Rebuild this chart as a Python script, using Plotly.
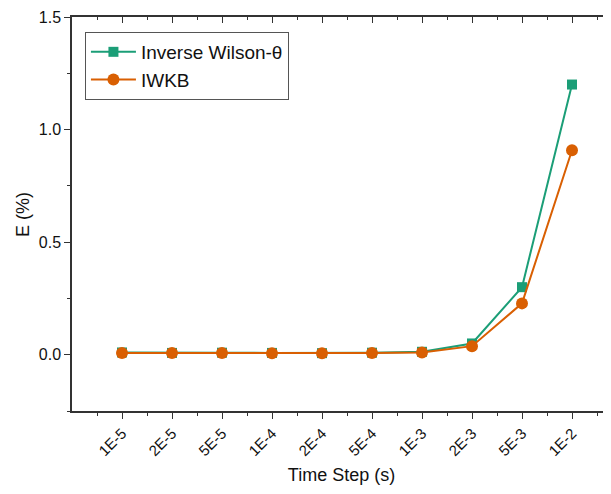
import plotly.graph_objects as go

categories = ["1E-5", "2E-5", "5E-5", "1E-4", "2E-4", "5E-4", "1E-3", "2E-3", "5E-3", "1E-2"]
inverse_wilson = [0.010, 0.008, 0.009, 0.008, 0.007, 0.009, 0.013, 0.050, 0.300, 1.200]
iwkb = [0.008, 0.008, 0.008, 0.007, 0.006, 0.008, 0.010, 0.038, 0.228, 0.908]

xpos = list(range(len(categories)))
GREEN = "#1b9e77"
ORANGE = "#d95f02"
FONT = "Liberation Sans, Arial, sans-serif"
TXT = "#111"

fig = go.Figure()
fig.add_trace(go.Scatter(x=xpos, y=inverse_wilson, mode="lines+markers", name="Inverse Wilson-θ",
                         line=dict(color=GREEN, width=2),
                         marker=dict(symbol="square", size=10, color=GREEN)))
fig.add_trace(go.Scatter(x=xpos, y=iwkb, mode="lines+markers", name="IWKB",
                         line=dict(color=ORANGE, width=2),
                         marker=dict(symbol="circle", size=12, color=ORANGE)))
# invisible trace for top axis
fig.add_trace(go.Scatter(x=[0], y=[0], xaxis="x2", mode="markers",
                         marker=dict(opacity=0), showlegend=False, hoverinfo="skip"))

xr = [-1, 9.78]
fig.update_layout(
    width=611, height=494,
    margin=dict(l=64, r=8, t=9, b=91, autoexpand=False),
    paper_bgcolor="white", plot_bgcolor="white",
    font=dict(family=FONT, size=15, color=TXT),
    showlegend=True,
    legend=dict(x=0.024, y=0.962, xanchor="left", yanchor="top",
                bordercolor="#555", borderwidth=1, bgcolor="white",
                font=dict(size=19, family=FONT, color=TXT),
                tracegroupgap=0, itemwidth=45),
    xaxis=dict(range=xr, tickmode="array", tickvals=xpos, ticktext=categories, automargin=False,
               tickangle=-45, ticks="outside", ticklen=6, tickwidth=1.2, tickcolor="#333",
               showline=True, linecolor="#333", linewidth=1.5, showgrid=False, zeroline=False,
               minor=dict(tickmode="linear", tick0=0.5, dtick=1, ticks="outside", ticklen=3, tickcolor="#333"),
               title=dict(text="Time Step (s)", font=dict(size=18, family=FONT, color=TXT), standoff=10),
               tickfont=dict(size=15, family=FONT, color=TXT)),
    xaxis2=dict(range=xr, overlaying="x", side="top", tickmode="array", tickvals=xpos, automargin=False,
                showticklabels=False, ticks="inside", ticklen=6, tickwidth=1.2, tickcolor="#333",
                showline=True, linecolor="#333", linewidth=1.5, showgrid=False, zeroline=False,
                minor=dict(tickmode="linear", tick0=0.5, dtick=1, ticks="inside", ticklen=3, tickcolor="#333")),
    yaxis=dict(range=[-0.25, 1.5], tickmode="linear", tick0=0, dtick=0.5, tickformat=".1f", automargin=False,
               ticks="outside", ticklen=6, tickwidth=1.2, tickcolor="#333",
               showline=True, linecolor="#333", linewidth=1.5, showgrid=False, zeroline=False,
               minor=dict(tickmode="linear", tick0=0.25, dtick=0.5, ticks="outside", ticklen=3, tickcolor="#333"),
               tickfont=dict(size=16, family=FONT, color=TXT)),
    annotations=[dict(text="E (%)", xref="paper", yref="paper", x=-0.091, y=0.5,
                      xanchor="center", yanchor="middle", textangle=-90, showarrow=False,
                      font=dict(size=18, family=FONT, color=TXT))],
)

fig.write_html("out.html")
